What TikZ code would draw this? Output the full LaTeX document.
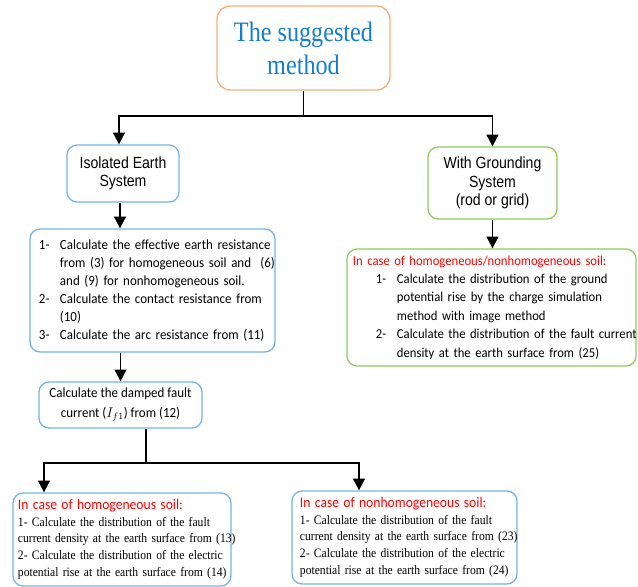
\documentclass[tikz,border=0pt]{standalone}
\usepackage{fontspec}
\setmainfont{Liberation Serif}
\newfontfamily\titulofont{Liberation Serif}[FakeStretch=0.86]
\newfontfamily\romana{Liberation Serif}[FakeStretch=0.9]
\newfontfamily\calibri{Carlito}[FakeStretch=0.93]
\newfontfamily\arial{Liberation Sans}[FakeStretch=0.87]
\usetikzlibrary{arrows.meta}
\definecolor{titulo}{RGB}{20,125,210}
\definecolor{naranja}{RGB}{245,175,125}
\definecolor{celeste}{RGB}{115,180,230}
\definecolor{verde}{RGB}{140,205,95}

\begin{document}
\begin{tikzpicture}[x=.03cm, y=-.03cm,
    caja/.style={draw=celeste, line width=1.1pt, rounded corners=.3cm, inner sep=0pt},
    linea/.style={line width=1.6pt},
    flecha/.style={line width=1.6pt, -{Triangle[width=10pt,length=10pt]}}]
    \useasboundingbox (0,0) rectangle (638,587);

    % Caja del título.
    \node[caja, draw=naranja, rounded corners=.4cm, minimum width=5.19cm, minimum height=2.52cm,
        align=center, text=titulo, font=\titulofont\fontsize{24}{28}\selectfont]
        (metodo) at (303.5,48) {The suggested\\method};

    % Los dos sistemas.
    \node[caja, minimum width=3.36cm, minimum height=1.71cm, align=center,
        font=\arial\fontsize{13.8}{15.4}\selectfont]
        (iso) at (123,173.5) {Isolated Earth\\System};
    \node[caja, draw=verde, minimum width=3.87cm, minimum height=2.16cm, align=center,
        font=\arial\fontsize{13.8}{16}\selectfont]
        (tierra) at (492.5,183) {With Grounding\\System\\(rod or grid)};

    % Pasos del sistema aislado.
    \node[caja, minimum width=7.35cm, minimum height=3.69cm, text width=6.81cm, align=left,
        font=\calibri\fontsize{11.9}{15.4}\selectfont]
        (pasos) at (152.5,290.5) {%
        \begin{tabular}{@{}p{.63cm}@{}l@{}}
            1- & Calculate the effective earth resistance\\
               & from (3) for homogeneous soil and~~(6)\\
               & and (9) for nonhomogeneous soil.\\
            2- & Calculate the contact resistance from\\
               & (10)\\
            3- & Calculate the arc resistance from (11)
        \end{tabular}};
    \node[caja, minimum width=4.89cm, minimum height=1.38cm, align=center,
        font=\calibri\fontsize{11.9}{17}\selectfont]
        (corriente) at (120.5,405) {Calculate the damped fault\\current ($I_{f1}$) from (12)};

    % Pasos con sistema de puesta a tierra.
    \node[caja, draw=verde, minimum width=8.67cm, minimum height=3.51cm, text width=8.31cm, align=left,
        font=\calibri\fontsize{11.6}{15.7}\selectfont]
        (casos) at (491.5,307.5) {%
        \begin{tabular}{@{\hspace{.69cm}}p{.63cm}@{}l@{}}
            \multicolumn{2}{@{}l@{}}{\textcolor{red}{In case of homogeneous/nonhomogeneous soil:}}\\
            1- & Calculate the distribution of the ground\\
               & potential rise by the charge simulation\\
               & method with image method\\
            2- & Calculate the distribution of the fault current\\
               & density at the earth surface from (25)
        \end{tabular}};

    % Suelo homogéneo y no homogéneo.
    \node[caja, minimum width=6.54cm, minimum height=2.79cm, text width=6.24cm, align=left,
        font=\romana\fontsize{11}{14.2}\selectfont]
        (homog) at (122,539.5) {%
        \begin{tabular}{@{}l@{}}
            {\calibri\fontsize{12.5}{14.2}\selectfont\color{red}In case of homogeneous soil:}\\
            1- Calculate the distribution of the fault\\
            current density at the earth surface from (13)\\
            2- Calculate the distribution of the electric\\
            potential rise at the earth surface from (14)
        \end{tabular}};
    \node[caja, minimum width=6.75cm, minimum height=2.79cm, text width=6.27cm, align=left,
        font=\romana\fontsize{11}{14.2}\selectfont]
        (nohomog) at (404.5,537.5) {%
        \begin{tabular}{@{}l@{}}
            {\calibri\fontsize{12.5}{14.2}\selectfont\color{red}In case of nonhomogeneous soil:}\\
            1- Calculate the distribution of the fault\\
            current density at the earth surface from (23)\\
            2- Calculate the distribution of the electric\\
            potential rise at the earth surface from (24)
        \end{tabular}};

    % Conectores.
    \coordinate (c1) at (303.5,116);
    \coordinate (c2) at (146,463);
    \draw[linea] (metodo.south) -- (c1);
    \draw[flecha] (c1) -| ([xshift=-.12cm]iso.north);
    \draw[flecha] (c1) -| (tierra.north);
    \draw[flecha] ([xshift=-.09cm]iso.south) -- ([xshift=-.09cm]iso.south |- pasos.north);
    \draw[flecha] (corriente.north |- pasos.south) -- (corriente.north);
    \draw[flecha] (tierra.south) -- (tierra.south |- casos.north);
    \draw[linea] (c2 |- corriente.south) -- (c2);
    \draw[flecha] (c2) -| ([xshift=-2.34cm]homog.north);
    \draw[flecha] (c2) -| ([xshift=-1.365cm]nohomog.north);
\end{tikzpicture}
\end{document}
